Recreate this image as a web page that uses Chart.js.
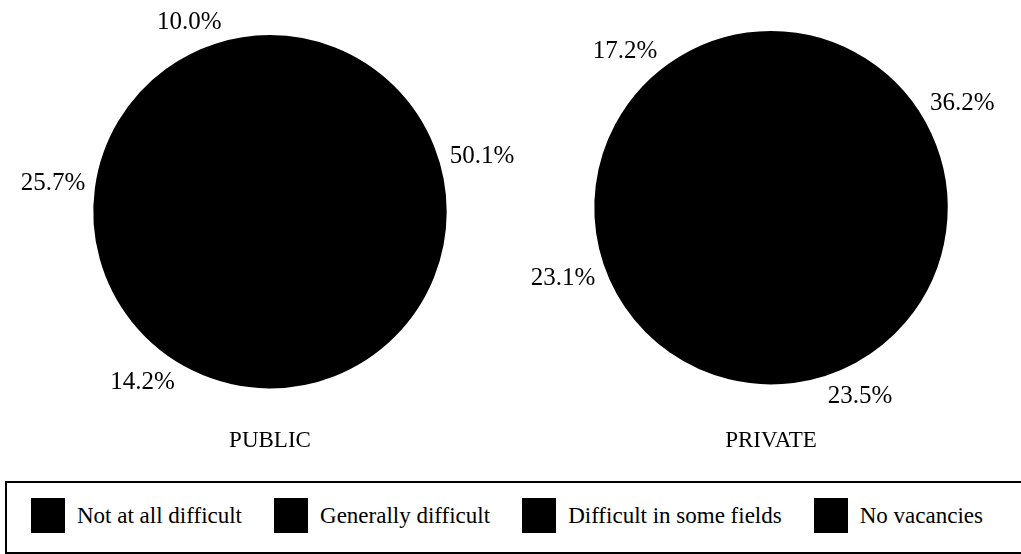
<!DOCTYPE html>
<html>
<head>
<meta charset="utf-8">
<script src="https://cdn.jsdelivr.net/npm/chart.js@4/dist/chart.umd.min.js"></script>
<style>
    html, body { margin: 0; padding: 0; background: #fff; overflow: hidden; }
    body { width: 1021px; height: 554px; position: relative; font-family: "Liberation Serif", "DejaVu Serif", serif; }
    .pieBox { position: absolute; top: 0; height: 460px; }
    #publicBox { left: 0; width: 540px; }
    #privateBox { left: 521px; width: 500px; }
    #legend {
        position: absolute; left: 5px; top: 481px; width: 1100px; height: 69px;
        border-top: 2px solid #000; border-left: 2px solid #000; border-bottom: 2px solid #000;
        box-sizing: content-box;
    }
    #legend .row { display: flex; align-items: center; gap: 32px; padding: 15px 0 0 24px; }
    #legend .item { display: flex; align-items: center; }
    #legend .swatch { width: 34px; height: 35px; margin-right: 12px; }
    #legend .txt { font-size: 23px; color: #000; white-space: nowrap; }
</style>
</head>
<body>
<div class="pieBox" id="publicBox"><canvas id="publicChart"></canvas></div>
<div class="pieBox" id="privateBox"><canvas id="privateChart"></canvas></div>
<div id="legend"><div class="row" id="legendRow"></div></div>

<script>
// categories (legend order)
const categories = ['Not at all difficult', 'Generally difficult', 'Difficult in some fields', 'No vacancies'];

// shares in %, clockwise from the top
const publicValues = [50.1, 14.2, 25.7, 10.0];
const privateValues = [36.2, 23.5, 23.1, 17.2];

const chartTitles = ['PUBLIC', 'PRIVATE'];

// the scan renders every slice as solid black
const sliceColors = ['#000000', '#000000', '#000000', '#000000'];

// small hand nudges of the percentage labels (degrees, clockwise)
const publicLabelShift = [-15, 11, 0, -5];
const privateLabelShift = [-4, -18, -5, -12];

const labelFont = '25px "Liberation Serif", serif';

// draws the percentage next to each slice, outside the pie
const outsideLabels = {
    id: 'outsideLabels',
    afterDatasetsDraw(chart, args, opts) {
        const ctx = chart.ctx;
        const meta = chart.getDatasetMeta(0);
        const values = chart.data.datasets[0].data;
        ctx.save();
        ctx.font = labelFont;
        ctx.fillStyle = '#000';
        ctx.textAlign = 'center';
        ctx.textBaseline = 'middle';
        meta.data.forEach((arc, i) => {
            const p = arc.getProps(['startAngle', 'endAngle', 'outerRadius', 'x', 'y'], true);
            const shift = (opts.shift && opts.shift[i] || 0) * Math.PI / 180;
            const mid = (p.startAngle + p.endAngle) / 2 + shift;
            const text = values[i].toFixed(1) + '%';
            const w = ctx.measureText(text).width;
            const h = 18;
            const d = p.outerRadius + 10 + Math.abs(Math.cos(mid)) * w / 2 + Math.abs(Math.sin(mid)) * h / 2;
            ctx.fillText(text, p.x + Math.cos(mid) * d, p.y + Math.sin(mid) * d + 1);
        });
        ctx.restore();
    }
};

function makePie(canvasId, values, title, shift, padTop, titlePad) {
    const ctx = document.getElementById(canvasId).getContext('2d');
    return new Chart(ctx, {
        type: 'pie',
        data: {
            labels: categories,
            datasets: [{
                data: values,
                backgroundColor: sliceColors,
                borderColor: '#000000',
                borderWidth: 2,
                hoverOffset: 0
            }]
        },
        options: {
            responsive: true,
            maintainAspectRatio: false,
            animation: false,
            events: [],
            layout: { padding: { top: padTop, bottom: 0, left: 0, right: 0 } },
            plugins: {
                legend: { display: false },
                tooltip: { enabled: false },
                title: {
                    display: true,
                    position: 'bottom',
                    text: title,
                    color: '#000',
                    font: { family: '"Liberation Serif", serif', size: 23, weight: 'normal', lineHeight: 1.2 },
                    padding: { top: titlePad, bottom: 5 }
                },
                outsideLabels: { shift: shift }
            }
        },
        plugins: [outsideLabels]
    });
}

makePie('publicChart', publicValues, chartTitles[0], publicLabelShift, 35, 39);
makePie('privateChart', privateValues, chartTitles[1], privateLabelShift, 31, 43);

// shared legend below both pies
const row = document.getElementById('legendRow');
categories.forEach((name, i) => {
    const item = document.createElement('div');
    item.className = 'item';
    const sw = document.createElement('div');
    sw.className = 'swatch';
    sw.style.background = sliceColors[i];
    const t = document.createElement('span');
    t.className = 'txt';
    t.textContent = name;
    item.appendChild(sw);
    item.appendChild(t);
    row.appendChild(item);
});
</script>
</body>
</html>
